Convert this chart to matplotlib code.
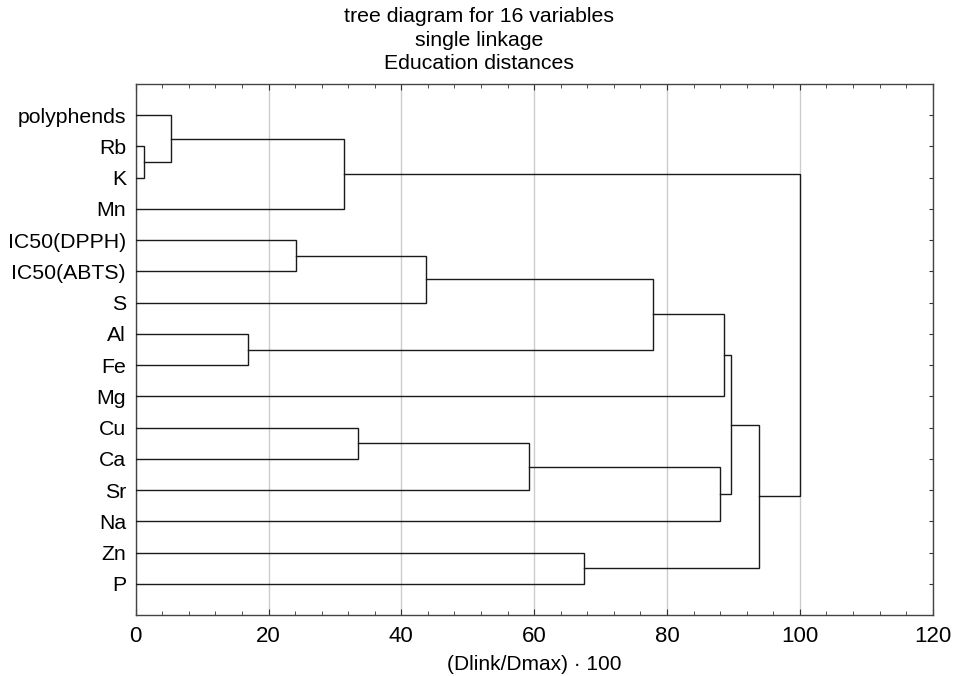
import matplotlib
matplotlib.use("Agg")
import matplotlib.pyplot as plt
from matplotlib.ticker import MultipleLocator

plt.rcParams['font.family'] = ['Liberation Sans', 'DejaVu Sans']

leaves = ["polyphends", "Rb", "K", "Mn", "IC50(DPPH)", "IC50(ABTS)", "S", "Al",
          "Fe", "Mg", "Cu", "Ca", "Sr", "Na", "Zn", "P"]

# merges: (left member, right member, linkage distance), clusters named c1..c15
merge_left = ["Rb", "polyphends", "c2", "IC50(DPPH)", "c4", "Al", "c5", "c7",
              "Cu", "c9", "c10", "c8", "Zn", "c12", "c3"]
merge_right = ["K", "c1", "Mn", "IC50(ABTS)", "S", "Fe", "c6", "Mg",
               "Ca", "Sr", "Na", "c11", "P", "c13", "c14"]
merge_height = [1.2, 5.3, 31.3, 24.1, 43.7, 16.9, 77.95, 88.6,
                33.5, 59.2, 88.0, 89.7, 67.5, 93.9, 100.0]

W, H = 954, 676
fig = plt.figure(figsize=(W / 100, H / 100), dpi=100)
ax = fig.add_axes([135.7 / W, 1 - 615 / H, (932.7 - 135.7) / W, (615 - 84) / H])

line_color = "#1a1a1a"
pos = {}
for i, name in enumerate(leaves):
    pos[name] = (0.0, i + 1.0)

for k, (a, b, h) in enumerate(zip(merge_left, merge_right, merge_height)):
    xa, ya = pos[a]
    xb, yb = pos[b]
    ax.plot([xa, h, h, xb], [ya, ya, yb, yb], color=line_color, lw=1.0,
            solid_joinstyle="miter", zorder=3)
    pos["c%d" % (k + 1)] = (h, (ya + yb) / 2)

ax.set_xlim(0, 120)
ax.set_ylim(17, 0)
ax.set_yticks(range(1, len(leaves) + 1))
ax.set_yticklabels(leaves, fontsize=15.3)
ax.xaxis.set_major_locator(MultipleLocator(20))
ax.xaxis.set_minor_locator(MultipleLocator(4))
ax.tick_params(axis="x", which="major", direction="in", length=4, top=True,
               labelsize=16, pad=8, color="#333333")
ax.tick_params(axis="x", which="minor", direction="in", length=3, top=True,
               color="#333333")
ax.tick_params(axis="y", which="major", direction="in", length=3, left=False,
               right=True, pad=7, color="#333333")
ax.grid(axis="x", which="major", color="#cccccc", lw=1.0, zorder=0)
for s in ax.spines.values():
    s.set_color("#444444")
    s.set_linewidth(1.0)

ax.set_xlabel("(Dlink/Dmax) \u00b7 100", fontsize=15, labelpad=6)

fig.text(479 / W, 1 - 40 / H,
         "tree diagram for 16 variables\nsingle linkage\nEducation distances",
         ha="center", va="center", fontsize=15.3, linespacing=1.3)

fig.savefig("out.png", dpi=100)
